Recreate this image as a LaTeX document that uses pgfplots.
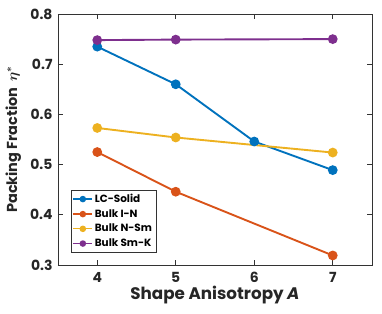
\documentclass[border=0pt]{standalone}
\usepackage{amsmath}
\usepackage{pgfplots}
\pgfplotsset{compat=1.18}
\usepackage{fontspec}
\setmainfont{Poppins}
\definecolor{c1}{rgb}{0,0.447,0.741}
\definecolor{c2}{rgb}{0.850,0.325,0.098}
\definecolor{c3}{rgb}{0.929,0.694,0.125}
\definecolor{c4}{rgb}{0.494,0.184,0.556}
\begin{document}
\begin{tikzpicture}
\begin{axis}[
  name=ax,
  scale only axis,
  width=314bp, height=251bp,
  xmin=3.5, xmax=7.5, ymin=0.3, ymax=0.8,
  xtick={4,5,6,7}, ytick={0.3,0.4,0.5,0.6,0.7,0.8},
  yticklabel style={/pgf/number format/fixed,/pgf/number format/precision=1,/pgf/number format/fixed zerofill},
  /pgf/number format/assume math mode=true,
  tick align=inside,
  major tick length=5bp,
  axis line style={draw=black!80, line width=0.8pt},
  every tick/.style={black!80, line width=0.8pt},
  ticklabel style={font=\fontsize{14}{16}\selectfont\bfseries, text=black!85},
  xticklabel style={yshift=-4bp},
  yticklabel style={xshift=-2bp},
  xlabel={Shape Anisotropy \textit{A}},
  ylabel={Packing Fraction \ $\boldsymbol{\eta}^{\boldsymbol{*}}$},
  xlabel style={yshift=4bp, font=\fontsize{16.8}{18}\selectfont\bfseries},
  ylabel style={yshift=2bp, font=\fontsize{14.5}{17}\selectfont\bfseries},
  label style={text=black!85},
  legend style={at={(0.04,0.05)}, anchor=south west, font=\fontsize{10.5}{12}\selectfont\bfseries, draw=black!80, line width=0.6pt, row sep=1.5pt, inner sep=2pt},
  legend image code/.code={\draw[#1, line width=1.3pt, mark size=2.6pt, mark repeat=2, mark phase=2] plot coordinates {(0cm,0cm) (0.33cm,0cm) (0.66cm,0cm)};},
  legend cell align=left,
  every axis plot/.append style={line width=1.9pt, mark=*, mark size=3.9pt},
]
\addplot[c1, mark options={fill=c1}] coordinates {(4,0.735) (5,0.660) (6,0.546) (7,0.489)};
\addlegendentry{LC-Solid}
\addplot[c2, mark options={fill=c2}] coordinates {(4,0.525) (5,0.446) (7,0.319)};
\addlegendentry{Bulk I-N}
\addplot[c3, mark options={fill=c3}] coordinates {(4,0.573) (5,0.554) (7,0.524)};
\addlegendentry{Bulk N-Sm}
\addplot[c4, mark options={fill=c4}] coordinates {(4,0.748) (5,0.749) (7,0.750)};
\addlegendentry{Bulk Sm-K}
\end{axis}
\pgfresetboundingbox
\path ([shift={(-58bp,-49bp)}]ax.south west) rectangle ([shift={(10bp,14bp)}]ax.north east);
\end{tikzpicture}
\end{document}
